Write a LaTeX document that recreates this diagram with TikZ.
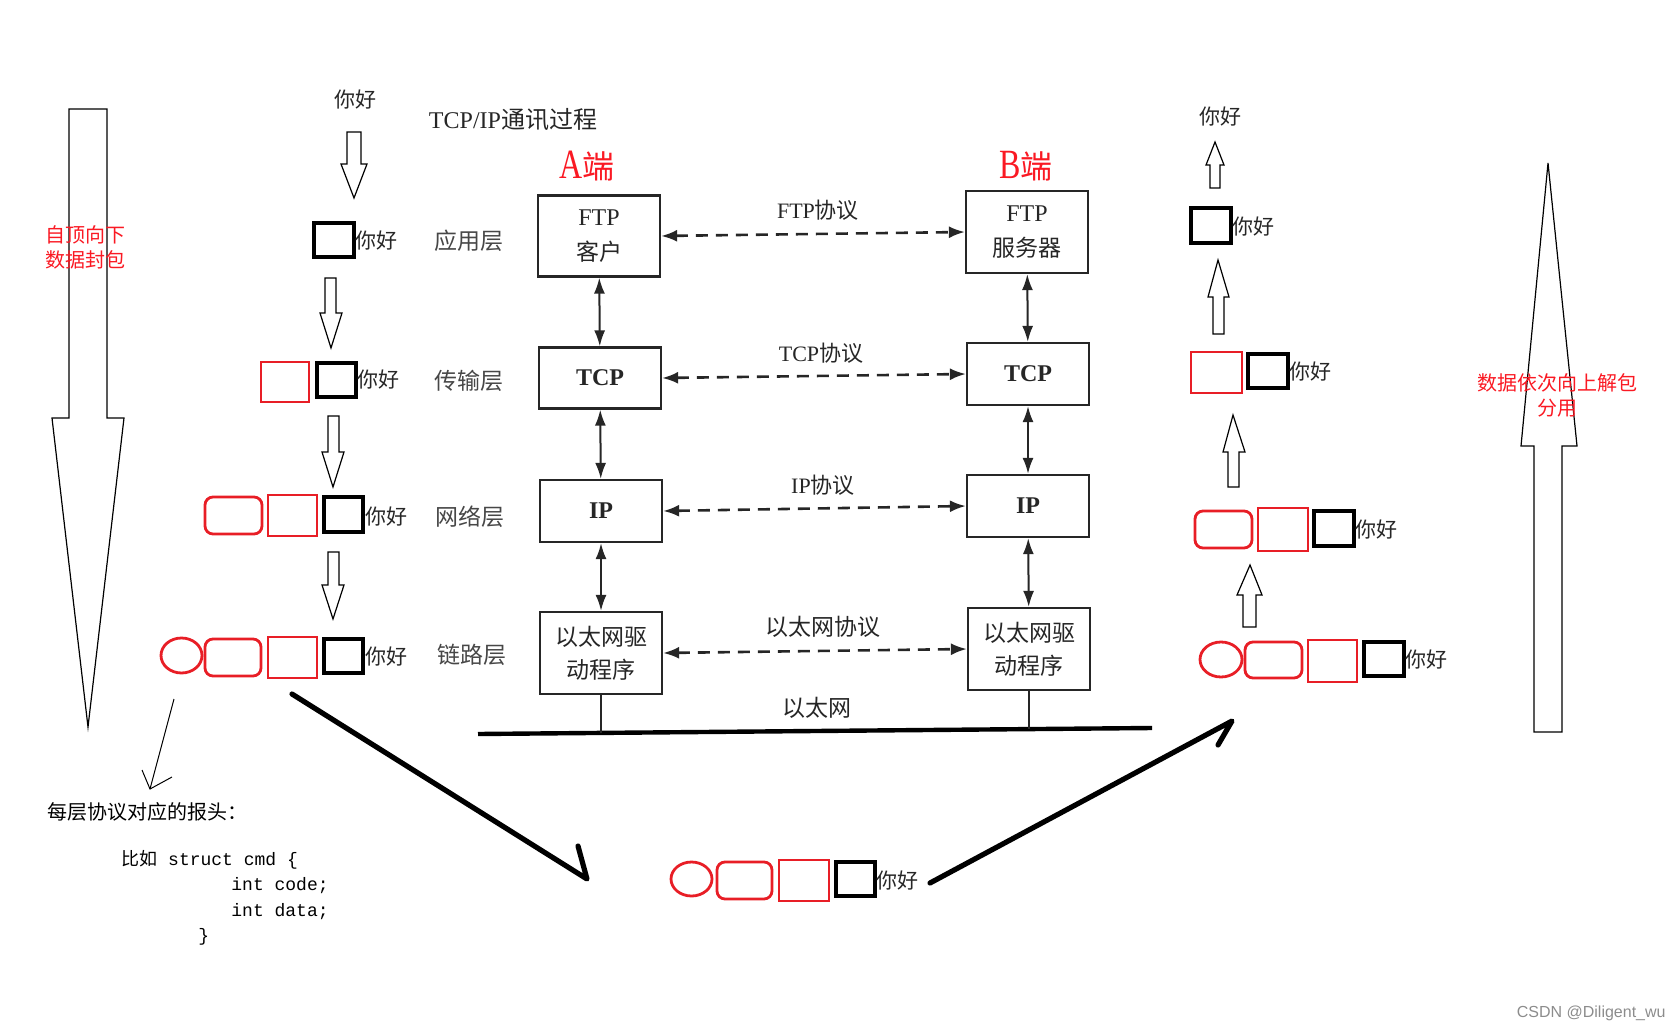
\documentclass[tikz,border=0pt]{standalone}
\usepackage{fontspec}
\setmainfont{Liberation Serif}
\newfontfamily\cjk{Noto Sans CJK SC}
\newfontfamily\monof{Liberation Mono}
\newfontfamily\sansf{Liberation Sans}
\usetikzlibrary{arrows.meta}
\definecolor{pkred}{RGB}{232,30,38}
\definecolor{scan}{RGB}{38,38,38}
\definecolor{redtxt}{RGB}{250,25,35}
\begin{document}
\begin{tikzpicture}[x=0.5pt,y=-0.5pt,
  lay/.style={draw=scan, line width=1.1pt, inner sep=0pt, minimum width=61pt, text=scan, align=center},
  vt/.style={draw=scan, line width=1pt, {Latex[length=8pt,width=5.5pt]}-{Latex[length=8pt,width=5.5pt]}},
  dsh/.style={draw=scan, line width=1.3pt, dash pattern=on 6pt off 4pt, {Latex[length=8pt,width=6pt]}-{Latex[length=8pt,width=6pt]}},
  harrow/.style={draw=black, line width=0.6pt, line join=miter},
  redbox/.style={draw=pkred, line width=1.4pt},
  blkbox/.style={draw=black, line width=1.7pt},
  hello/.style={anchor=west, inner sep=0pt, text=scan, font=\cjk\fontsize{10.5}{12}\selectfont},
  layer/.style={inner sep=0pt, text=scan!85, font=\cjk\fontsize{11.5}{13}\selectfont},
  proto/.style={inner sep=0pt, text=scan, font=\fontsize{11}{13}\selectfont},
  redlbl/.style={inner sep=0pt, text=redtxt, font=\cjk\fontsize{10}{12.5}\selectfont, align=center},
  thickarr/.style={draw=black, line width=2.6pt, line cap=round, line join=round},
  codef/.style={anchor=west, inner sep=0pt, text=black, font=\monof\fontsize{9}{11}\selectfont}
]
\useasboundingbox (0,0) rectangle (1679,1032);

% ---------- title and end labels ----------
\node[inner sep=0pt, text=scan, font=\fontsize{12}{14}\selectfont] (title) at (513,120) {TCP/IP{\cjk 通讯过程}};
\node[inner sep=0pt, text=redtxt, font=\fontsize{16}{18}\selectfont] (aend) at (587,166) {\scalebox{1}[1.3]{A}{\cjk 端}};
\node[inner sep=0pt, text=redtxt, font=\fontsize{16}{18}\selectfont] (bend) at (1026,166) {\scalebox{1}[1.3]{B}{\cjk 端}};

% ---------- protocol stack boxes ----------
\node[lay, minimum height=40.5pt, font=\fontsize{12}{17.5}\selectfont] (ftpA) at (599,236) {FTP\\{\cjk\fontsize{11.5}{13}\selectfont 客户}};
\node[lay, minimum height=30.5pt, font=\bfseries\fontsize{12}{14}\selectfont] (tcpA) at (600,378) {TCP};
\node[lay, minimum height=31pt, font=\bfseries\fontsize{12}{14}\selectfont] (ipA) at (601,511) {IP};
\node[lay, minimum height=41pt, font=\cjk\fontsize{11.5}{16.5}\selectfont] (ethA) at (601,653) {以太网驱\\动程序};

\node[lay, minimum height=41pt, font=\fontsize{12}{17.5}\selectfont] (ftpB) at (1027,232) {FTP\\{\cjk\fontsize{11.5}{13}\selectfont 服务器}};
\node[lay, minimum height=31pt, font=\bfseries\fontsize{12}{14}\selectfont] (tcpB) at (1028,374) {TCP};
\node[lay, minimum height=31pt, font=\bfseries\fontsize{12}{14}\selectfont] (ipB) at (1028,506) {IP};
\node[lay, minimum height=41pt, font=\cjk\fontsize{11.5}{16.5}\selectfont] (ethB) at (1029,649) {以太网驱\\动程序};

\draw[vt] (ftpA) -- (tcpA);
\draw[vt] (tcpA) -- (ipA);
\draw[vt] (ipA) -- (ethA);
\draw[vt] (ftpB) -- (tcpB);
\draw[vt] (tcpB) -- (ipB);
\draw[vt] (ipB) -- (ethB);

\draw[dsh] (ftpA.east) -- (ftpB.west);
\draw[dsh] (tcpA.east) -- (tcpB.west);
\draw[dsh] (ipA.east) -- (ipB.west);
\draw[dsh] (ethA.east) -- (ethB.west);

\node[proto] (pftp) at (818,210) {FTP{\cjk 协议}};
\node[proto] (ptcp) at (821,353) {TCP{\cjk 协议}};
\node[proto] (pip) at (823,485) {IP{\cjk 协议}};
\node[proto, font=\cjk\fontsize{11.5}{13}\selectfont] (peth) at (823,627) {以太网协议};
\node[proto, font=\cjk\fontsize{11.5}{13}\selectfont] (ether) at (817,708) {以太网};

% ethernet bus
\coordinate (busL) at (478,734);
\coordinate (busR) at (1152,728);
\coordinate (tapA) at (601,733);
\coordinate (tapB) at (1029,729);
\draw[draw=black, line width=2.2pt] (busL) -- (busR);
\draw[draw=scan, line width=0.8pt] (ethA.south) -- (tapA);
\draw[draw=scan, line width=0.8pt] (ethB.south) -- (tapB);

% layer names
\node[layer] (l1) at (469,241) {应用层};
\node[layer] (l2) at (469,381) {传输层};
\node[layer] (l3) at (470,517) {网络层};
\node[layer] (l4) at (472,655) {链路层};

% ---------- left side: encapsulation ----------
\draw[harrow] (69,109) -- (107,109) -- (107,418) -- (124,418) -- (88,727) -- (52,418) -- (69,418) -- cycle;
\node[redlbl] (ltext) at (85,247) {自顶向下\\数据封包};

\node[inner sep=0pt, text=scan, font=\cjk\fontsize{10.5}{12}\selectfont] (h0) at (355,100) {你好};
\draw[harrow] (347,132) -- (361,132) -- (361,164) -- (367,164) -- (354,198) -- (341,164) -- (347,164) -- cycle;

\draw[blkbox] (314,223) rectangle (354,257);
\node[hello] (h1) at (355,241) {你好};
\draw[harrow] (325,278) -- (336,278) -- (336,313) -- (342,313) -- (331,348) -- (320,313) -- (325,313) -- cycle;

\draw[redbox] (261,362) rectangle (309,402);
\draw[blkbox] (317,363) rectangle (356,397);
\node[hello] (h2) at (357,380) {你好};
\draw[harrow] (328,416) -- (339,416) -- (339,452) -- (344,452) -- (333,487) -- (322,452) -- (328,452) -- cycle;

\draw[redbox, rounded corners=4pt] (205,497) rectangle (262,534);
\draw[redbox] (268,495) rectangle (317,536);
\draw[blkbox] (324,497) rectangle (363,532);
\node[hello] (h3) at (365,517) {你好};
\draw[harrow] (328,552) -- (339,552) -- (339,585) -- (344,585) -- (333,619) -- (322,585) -- (328,585) -- cycle;

\draw[redbox] (181.5,655.5) ellipse [x radius=10.25pt, y radius=8.75pt];
\draw[redbox, rounded corners=4pt] (205,639) rectangle (261,676);
\draw[redbox] (268,637) rectangle (317,678);
\draw[blkbox] (324,639) rectangle (363,673);
\node[hello] (h4) at (365,657) {你好};

% thin arrow to header note
\coordinate (ta0) at (174,699);
\coordinate (ta1) at (150,789);
\draw[draw=black, line width=0.5pt] (ta0) -- (ta1);
\draw[draw=black, line width=0.5pt] (142,770) -- (ta1) -- (172,777);

\node[anchor=west, inner sep=0pt, text=black, font=\cjk\fontsize{10}{12}\selectfont] (hdr) at (47,812) {每层协议对应的报头：};
\node[codef] (c1) at (121,860) {{\cjk 比如} struct cmd \{};
\node[codef] (c2) at (231,886) {int code;};
\node[codef] (c3) at (231,912) {int data;};
\node[codef] (c4) at (198,937) {\}};

% ---------- bottom packet ----------
\coordinate (la0) at (292,694);
\coordinate (la1) at (587,879);
\draw[thickarr] (la0) -- (la1) -- (578,846);

\draw[redbox] (691.5,879) ellipse [x radius=10.25pt, y radius=8.5pt];
\draw[redbox, rounded corners=4pt] (717,862) rectangle (772,899);
\draw[redbox] (779,860) rectangle (829,901);
\draw[blkbox] (836,862) rectangle (875,896);
\node[hello] (h5) at (876,881) {你好};

\coordinate (ra0) at (930,883);
\coordinate (ra1) at (1232,721);
\draw[thickarr] (ra0) -- (ra1) -- (1218,745);

% ---------- right side: decapsulation ----------
\draw[redbox] (1221,659.5) ellipse [x radius=10.5pt, y radius=8.75pt];
\draw[redbox, rounded corners=4pt] (1245,642) rectangle (1302,678);
\draw[redbox] (1308,640) rectangle (1357,682);
\draw[blkbox] (1364,642) rectangle (1404,676);
\node[hello] (r4) at (1405,660) {你好};
\draw[harrow] (1243,627) -- (1256,627) -- (1256,595) -- (1262,595) -- (1250,565) -- (1237,595) -- (1243,595) -- cycle;

\draw[redbox, rounded corners=4pt] (1195,511) rectangle (1252,548);
\draw[redbox] (1258,508) rectangle (1308,551);
\draw[blkbox] (1314,511) rectangle (1354,546);
\node[hello] (r3) at (1355,530) {你好};
\draw[harrow] (1228,487) -- (1239,487) -- (1239,452) -- (1245,452) -- (1233,415) -- (1223,452) -- (1228,452) -- cycle;

\draw[redbox] (1191,352) rectangle (1242,393);
\draw[blkbox] (1248,354) rectangle (1288,388);
\node[hello] (r2) at (1289,372) {你好};
\draw[harrow] (1213,334) -- (1224,334) -- (1224,297) -- (1229,297) -- (1218,260) -- (1208,297) -- (1213,297) -- cycle;

\draw[blkbox] (1191,208) rectangle (1231,243);
\node[hello] (r1) at (1232,227) {你好};
\draw[harrow] (1210,188) -- (1220,188) -- (1220,165) -- (1224,165) -- (1215,142) -- (1206,165) -- (1210,165) -- cycle;
\node[inner sep=0pt, text=scan, font=\cjk\fontsize{10.5}{12}\selectfont] (r0) at (1220,117) {你好};

\draw[harrow] (1534,732) -- (1562,732) -- (1562,446) -- (1577,446) -- (1548,163) -- (1521,446) -- (1534,446) -- cycle;
\node[redlbl] (rtext) at (1557,395) {数据依次向上解包\\分用};

% watermark
\node[anchor=east, inner sep=0pt, text=black!45, font=\sansf\fontsize{8}{9}\selectfont] (wm) at (1666,1013) {CSDN @Diligent\_wu};
\end{tikzpicture}
\end{document}
